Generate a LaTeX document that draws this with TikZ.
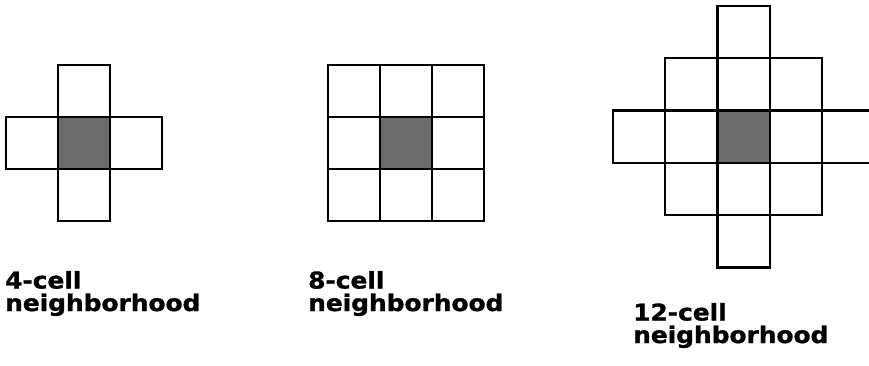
\documentclass[tikz,border=0pt]{standalone}
\usepackage{fontspec}
\newfontfamily\labfont[FakeStretch=1.08,BoldFeatures={FakeBold=1.2}]{DejaVu Sans}
\begin{document}
\begin{tikzpicture}[x=1pt,y=-1pt,
  cell/.style={draw=black, line width=2.3pt, fill=white},
  ctr/.style={draw=black, line width=2.3pt, fill=black!58},
  lab/.style={anchor=base west, inner sep=0pt, align=left,
    font=\labfont\bfseries\fontsize{23}{22.5}\selectfont}]
\useasboundingbox (0,0) rectangle (869,365);
\clip (0,0) rectangle (869,365);
% 4-cell neighborhood
\begin{scope}[shift={(6,13)}]
  \foreach \c/\r in {1/0,0/1,2/1,1/2}
    \draw[cell] (\c*52,\r*52+52) rectangle ++(52,52);
  \draw[ctr] (52,104) rectangle ++(52,52);
\end{scope}
% 8-cell neighborhood
\begin{scope}[shift={(328,65)}]
  \foreach \c in {0,1,2}
    \foreach \r in {0,1,2}
      \draw[cell] (\c*52,\r*52) rectangle ++(52,52);
  \draw[ctr] (52,52) rectangle ++(52,52);
\end{scope}
% 12-cell neighborhood
\begin{scope}[shift={(613,6)}]
  \foreach \c/\r in {2/0,1/1,2/1,3/1,0/2,1/2,3/2,4/2,1/3,2/3,3/3,2/4}
    \draw[cell] (\c*52.3,\r*52.3) rectangle ++(52.3,52.3);
  \draw[ctr] (2*52.3,2*52.3) rectangle ++(52.3,52.3);
\end{scope}
% labels (base anchor = baseline of the last line)
\node[lab] (l4) at (5,311) {4-cell\\neighborhood};
\node[lab] (l8) at (308,311) {8-cell\\neighborhood};
\node[lab] (l12) at (633,343) {12-cell\\neighborhood};
\end{tikzpicture}
\end{document}
